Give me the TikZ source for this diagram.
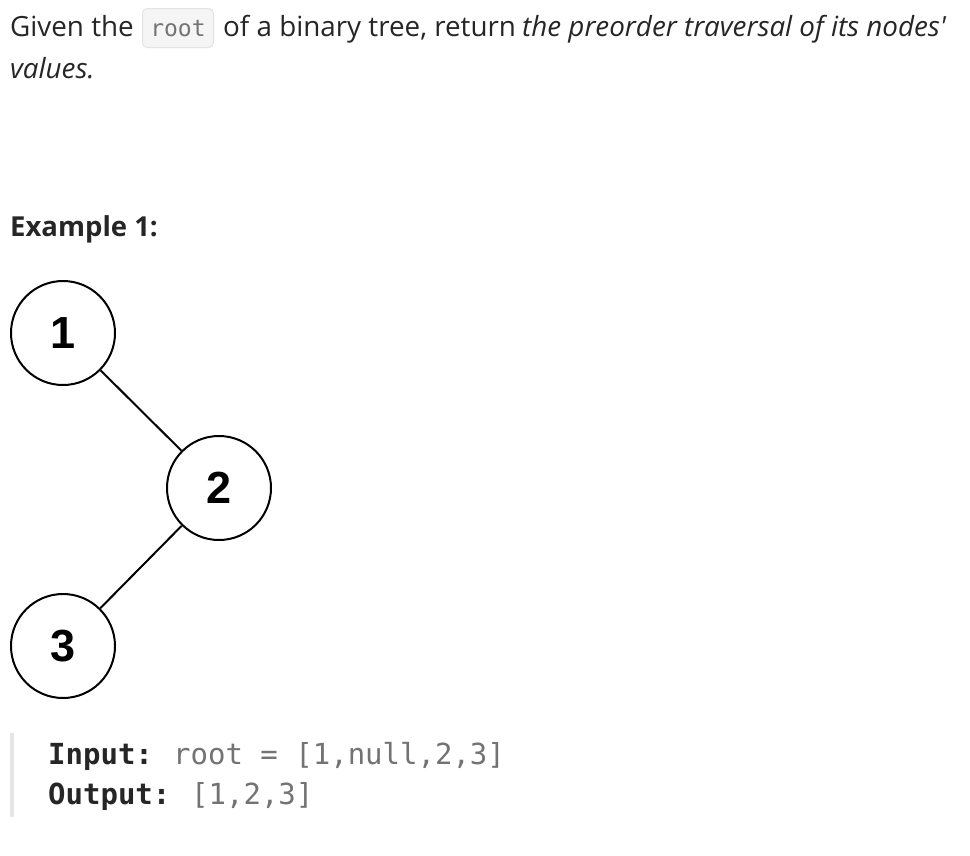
\documentclass[tikz,border=0pt]{standalone}
\usepackage{fontspec}
\setmainfont{Open Sans}[Ligatures=TeXOff]
\setmonofont{DejaVu Sans Mono}
\newfontfamily\numfont{Liberation Sans}
\usetikzlibrary{calc}
\definecolor{txt}{HTML}{262626}
\definecolor{codegray}{HTML}{737373}
\definecolor{codebg}{HTML}{F5F5F5}
\definecolor{codeborder}{HTML}{E3E3E3}
\definecolor{barcol}{HTML}{E5E5E5}
\tikzset{
  bodytext/.style={inner sep=0pt, anchor=base west, text=txt, font=\fontsize{27.8}{33}\selectfont},
  treenode/.style={circle, draw=black, line width=2pt, minimum size=104pt, inner sep=0pt, font=\numfont\bfseries\fontsize{45}{45}\selectfont},
  edge/.style={line width=2pt, black},
  codetext/.style={inner sep=0pt, anchor=base west, font=\ttfamily\fontsize{29}{34}\selectfont}
}
\begin{document}
\begin{tikzpicture}[x=1pt,y=-1pt]
\useasboundingbox[fill=white] (0,0) rectangle (970,855);
% first paragraph
\node[bodytext] (t1) at (10,36) {Given the};
\node[draw=codeborder, fill=codebg, rounded corners=5pt, line width=1pt, minimum width=71pt, minimum height=39pt, inner sep=0pt, anchor=north west] (rootbox) at (142,8) {};
\node[inner sep=0pt, anchor=base, text=codegray, font=\ttfamily\fontsize{23}{28}\selectfont] (rootw) at ($(rootbox.center)+(0,8)$) {root};
\node[bodytext] (t2) at (223,36) {of a binary tree, return};
\node[bodytext, font=\itshape\fontsize{27.8}{33}\selectfont] (t3) at (522,36) {the preorder traversal of its nodes'};
\node[bodytext, font=\itshape\fontsize{27.8}{33}\selectfont] (t4) at (10,78) {values.};
% heading
\node[bodytext, font=\bfseries\fontsize{27.5}{33}\selectfont] (ex) at (10,236) {Example 1:};
% tree
\node[treenode] (n1) at (63,333) {1};
\node[treenode] (n2) at (219,488) {2};
\node[treenode] (n3) at (63,646) {3};
\draw[edge] (n1) -- (n2);
\draw[edge] (n2) -- (n3);
% code block
\coordinate (bartop) at (12,733);
\coordinate (barbot) at (12,817);
\draw[barcol, line width=4pt] (bartop) -- (barbot);
\node[codetext, text=txt, font=\ttfamily\bfseries\fontsize{29}{34}\selectfont] (in) at (48,764) {Input:};
\node[codetext, text=codegray] (inv) at (173,764) {root = [1,null,2,3]};
\node[codetext, text=txt, font=\ttfamily\bfseries\fontsize{29}{34}\selectfont] (out) at (48,804) {Output:};
\node[codetext, text=codegray] (outv) at (191,804) {[1,2,3]};
\end{tikzpicture}
\end{document}
